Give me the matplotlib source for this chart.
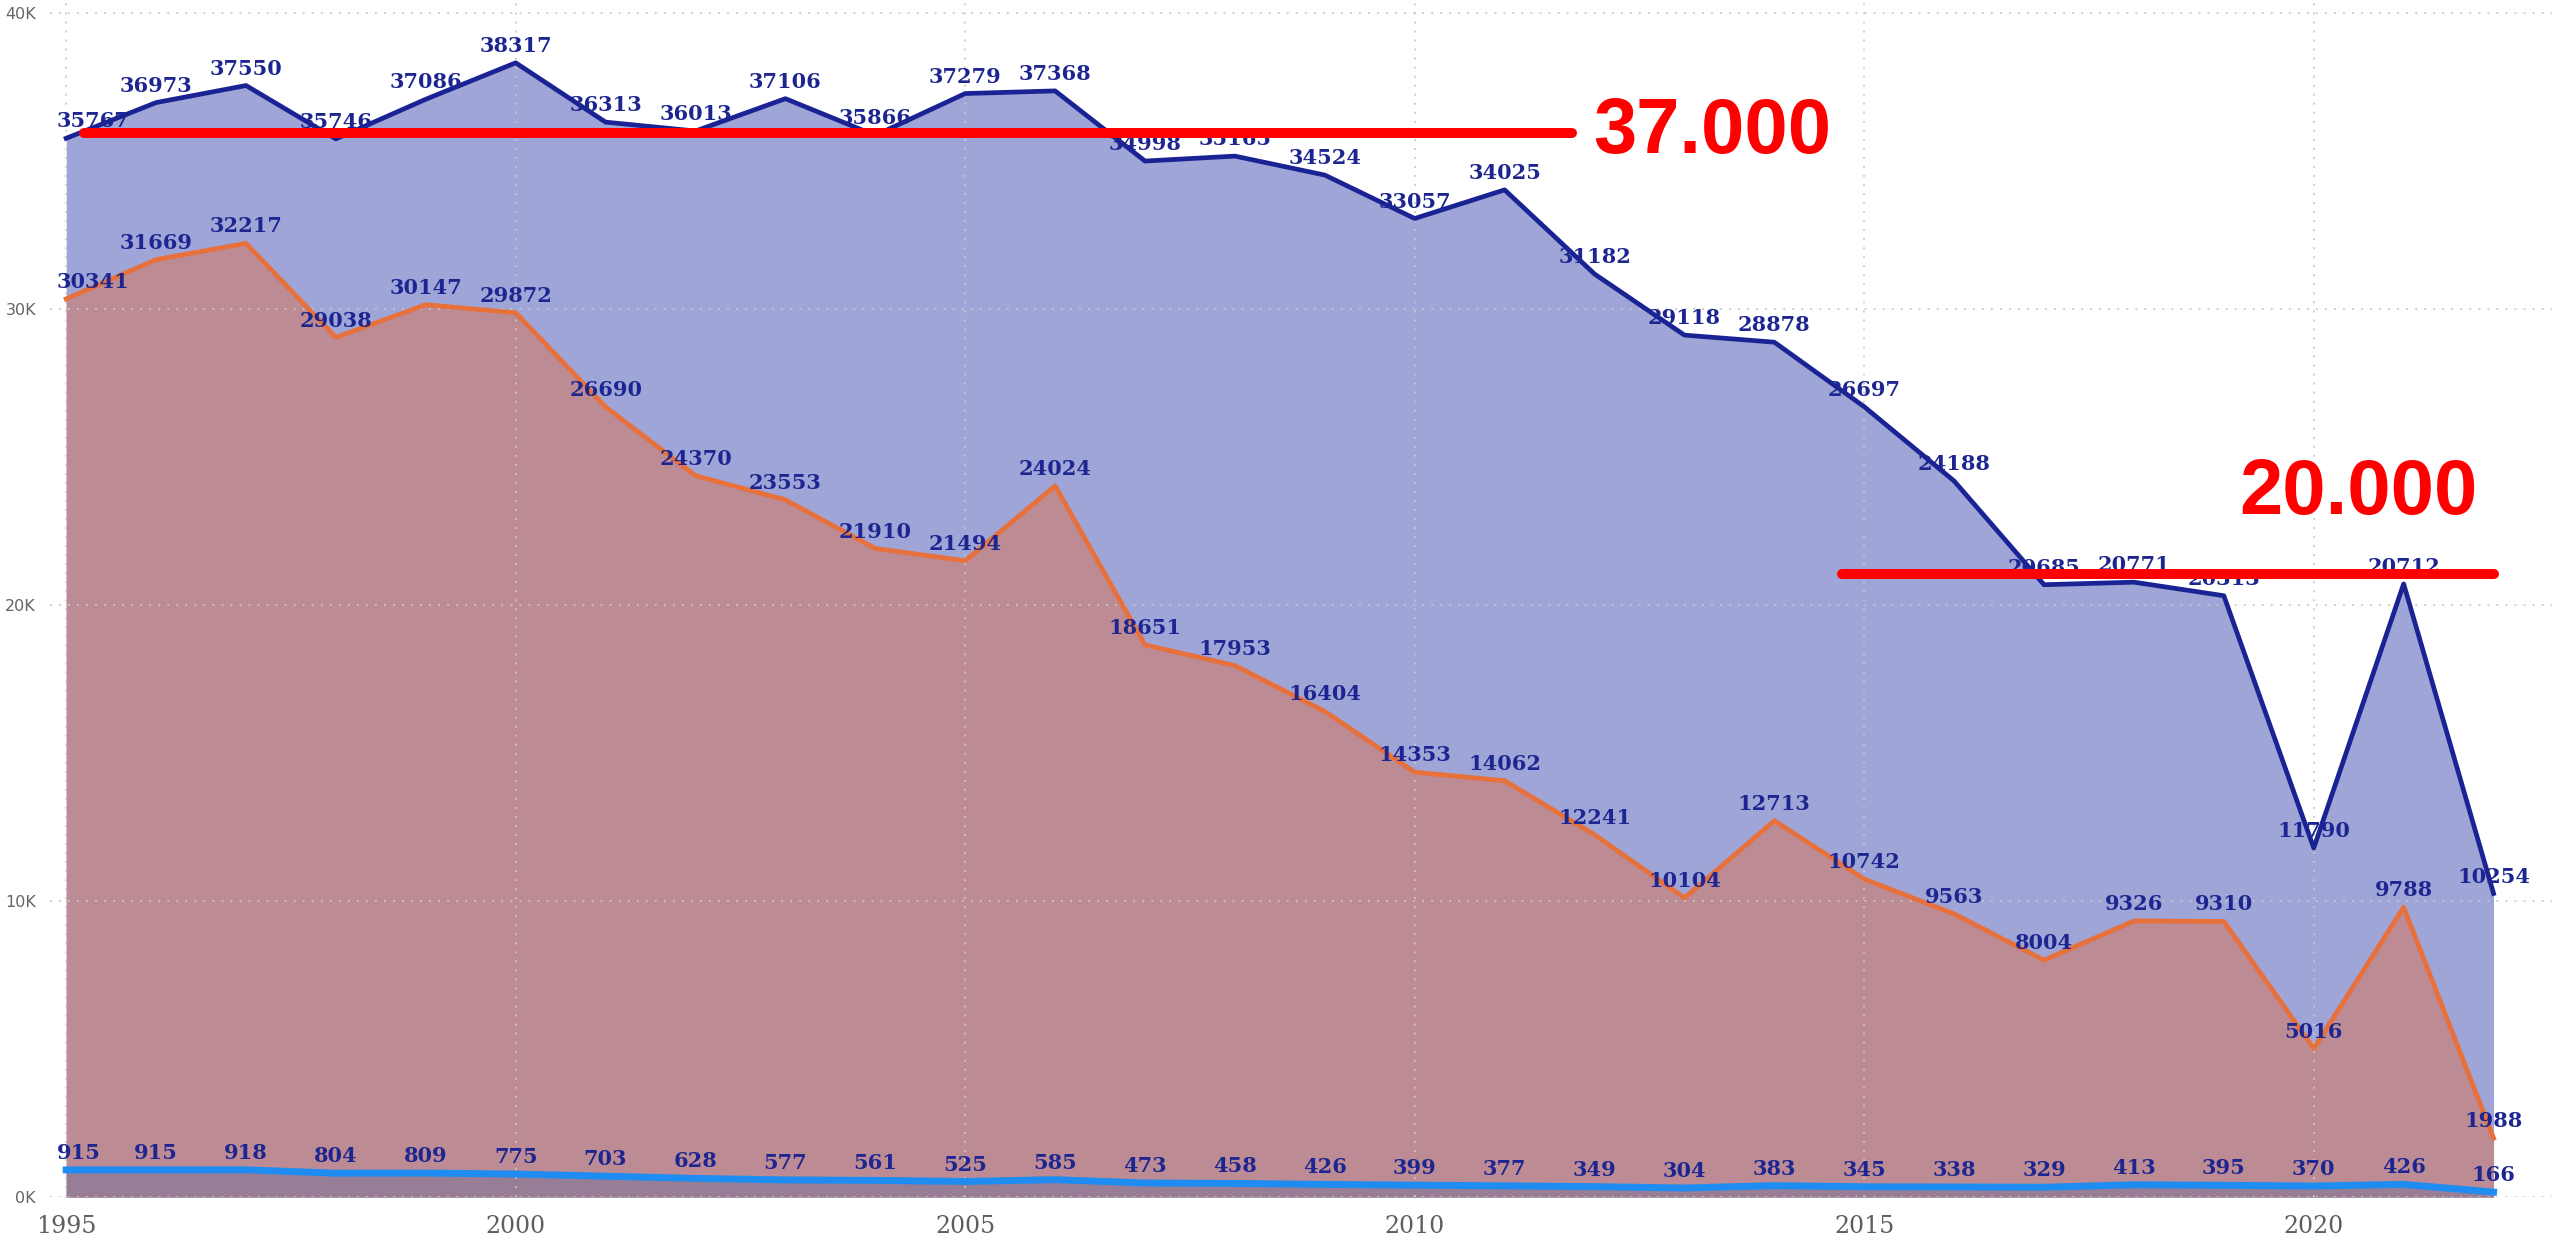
import matplotlib.pyplot as plt
import numpy as np

years = list(range(1995, 2023))

total = [35767, 36973, 37550, 35746, 37086, 38317, 36313, 36013, 37106, 35866,
         37279, 37368, 34998, 35165, 34524, 33057, 34025, 31182, 29118, 28878,
         26697, 24188, 20685, 20771, 20313, 11790, 20712, 10254]
middle = [30341, 31669, 32217, 29038, 30147, 29872, 26690, 24370, 23553, 21910,
          21494, 24024, 18651, 17953, 16404, 14353, 14062, 12241, 10104, 12713,
          10742, 9563, 8004, 9326, 9310, 5016, 9788, 1988]
bottom = [915, 915, 918, 804, 809, 775, 703, 628, 577, 561,
          525, 585, 473, 458, 426, 399, 377, 349, 304, 383,
          345, 338, 329, 413, 395, 370, 426, 166]

y_ticks = [0, 10000, 20000, 30000, 40000]
y_tick_labels = ['0K', '10K', '20K', '30K', '40K']
x_ticks = [1995, 2000, 2005, 2010, 2015, 2020]

# red annotation lines (x0, x1, y) and their texts
ref_lines = [(1995.2, 2011.75, 35950), (2014.75, 2022.0, 21050)]
ref_texts = [(2011.99, 35970, '37.000'), (2019.17, 23750, '20.000')]

navy = '#1a2394'
label_color = '#1c2590'

fig = plt.figure(figsize=(25.52, 12.42), dpi=100)
ax = fig.add_axes([50 / 2552, 45 / 1242, 2502 / 2552, 1197 / 1242])

ax.fill_between(years, total, color='#9fa5d6', zorder=1, linewidth=0)
ax.fill_between(years, middle, color='#bc8b94', zorder=1.1, linewidth=0)
ax.fill_between(years, bottom, color='#977e96', zorder=1.2, linewidth=0)

ax.plot(years, total, color=navy, lw=3.4, zorder=3)
ax.plot(years, middle, color='#e8703a', lw=3.4, zorder=3.1)
ax.plot(years, bottom, color='#1e8cf0', lw=5.0, zorder=3.2)

label_font = dict(family='DejaVu Serif', weight='bold', size=15, color=label_color)
for series in (total, middle, bottom):
    for i, (x, v) in enumerate(zip(years, series)):
        if i == 0:
            ax.annotate(str(v), (x, v), xytext=(-7, 5), textcoords='offset points',
                        ha='left', va='bottom', zorder=4, **label_font)
        else:
            ax.annotate(str(v), (x, v), xytext=(0, 5), textcoords='offset points',
                        ha='center', va='bottom', zorder=4, **label_font)

for x0, x1, y in ref_lines:
    ax.plot([x0, x1], [y, y], color='#ff0000', lw=7.2, solid_capstyle='round', zorder=5)
for x, y, t in ref_texts:
    ax.text(x, y, t, color='#ff0000', fontsize=56, fontweight='bold',
            family='Liberation Sans', ha='left', va='center', zorder=5)

ax.set_xlim(1994.82, 2022.65)
ax.set_ylim(0, 40439)
ax.set_yticks(y_ticks)
ax.set_yticklabels(y_tick_labels)
ax.set_xticks(x_ticks)
ax.tick_params(axis='y', length=0, pad=10, labelsize=11.5, labelcolor='#666666')
ax.tick_params(axis='x', length=0, pad=13, labelsize=17, labelcolor='#605e5c')
for lab in ax.get_xticklabels():
    lab.set_family('DejaVu Serif')

ax.set_axisbelow(False)
ax.grid(True, color='#c8c8c8', linestyle=(0, (1, 4)), linewidth=1.3)
for s in ax.spines.values():
    s.set_visible(False)

fig.savefig('out.png', dpi=100)
